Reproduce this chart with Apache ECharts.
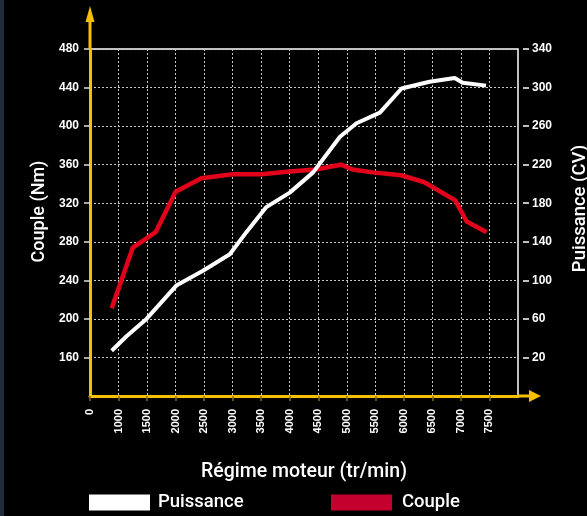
<!DOCTYPE html>
<html>
<head>
<meta charset="utf-8">
<script src="https://cdn.jsdelivr.net/npm/echarts@6/dist/echarts.min.js"></script>
<style>
html,body{margin:0;padding:0;background:#000;}
#chart{width:587px;height:516px;}
</style>
</head>
<body>
<div id="chart"></div>
<script>
// ---- data ----
const xTicks = [500, 1000, 1500, 2000, 2500, 3000, 3500, 4000, 4500, 5000, 5500, 6000, 6500, 7000, 7500];
const xTickLabels = ['0', '1000', '1500', '2000', '2500', '3000', '3500', '4000', '4500', '5000', '5500', '6000', '6500', '7000', '7500'];
const leftTicks = [160, 200, 240, 280, 320, 360, 400, 440, 480];
const rightTicks = [20, 60, 100, 140, 180, 220, 260, 300, 340];

const coupleRpm = [880, 1250, 1650, 2000, 2450, 3000, 3500, 4000, 4450, 4900, 5100, 5450, 5950, 6350, 6900, 7100, 7450];
const coupleNm  = [211, 274, 290, 332, 346, 350, 350, 353, 355, 360, 355, 352, 349, 342, 323, 301, 290];

const puissanceRpm = [880, 1140, 1490, 2020, 2480, 2950, 3240, 3590, 4000, 4410, 4880, 5170, 5580, 5960, 6450, 6890, 7030, 7440];
const puissanceCv  = [27, 42, 60, 95, 110, 127, 150, 176, 191, 212, 249, 263, 274, 299, 306, 310, 305, 302];

const YELLOW = '#f5c000';
const FONT = 'Roboto';

const chart = echarts.init(document.getElementById('chart'));
const gLeft = 90, gRight = 69, gTop = 49, gBottom = 120;
const W = 587, H = 516;
const x0 = gLeft, y0 = H - gBottom, x1 = W - gRight;

chart.setOption({
  backgroundColor: '#000',
  animation: false,
  grid: { left: gLeft, right: gRight, top: gTop, bottom: gBottom, containLabel: false, outerBoundsMode: 'none',
          show: true, borderColor: '#ffffff', borderWidth: 1.5, backgroundColor: 'transparent' },
  legend: [
    { data: ['Puissance'], left: 89, top: 493, padding: 0, icon: 'rect', itemWidth: 61, itemHeight: 16, itemGap: 8,
      textStyle: { color: '#fff', fontSize: 18.5, fontFamily: FONT, fontWeight: 500, padding: [0, 0, 0, 3] } },
    { data: ['Couple'], left: 331, top: 493, padding: 0, icon: 'rect', itemWidth: 61, itemHeight: 16, itemGap: 8,
      textStyle: { color: '#fff', fontSize: 18.5, fontFamily: FONT, fontWeight: 500, padding: [0, 0, 0, 5] } }
  ],
  xAxis: {
    type: 'value', min: 500, max: 8000, interval: 500,
    name: 'Régime moteur (tr/min)', nameLocation: 'middle', nameGap: 66,
    nameTextStyle: { color: '#fff', fontSize: 19.5, fontFamily: FONT, fontWeight: 500 },
    axisLine: { show: true, onZero: false, lineStyle: { color: YELLOW, width: 3 } },
    axisTick: { show: true, length: 5, customValues: xTicks, lineStyle: { color: '#8a6c00', width: 1.5 } },
    axisLabel: {
      customValues: xTicks, rotate: 90, margin: 13, color: '#fff', fontSize: 11, fontWeight: 'bold', fontFamily: 'Liberation Sans',
      formatter: v => xTickLabels[xTicks.indexOf(v)] || ''
    },
    splitLine: { show: true, lineStyle: { color: '#c8c8c8', type: [2, 2], width: 1 } }
  },
  yAxis: [
    {
      type: 'value', min: 120, max: 480, interval: 40, position: 'left',
      name: 'Couple (Nm)', nameLocation: 'middle', nameGap: 42, nameRotate: 90,
      nameTextStyle: { color: '#fff', fontSize: 18, fontFamily: FONT, fontWeight: 500, padding: [0, 0, 0, 22] },
      axisLine: { show: true, onZero: false, lineStyle: { color: YELLOW, width: 3 } },
      axisTick: { show: true, length: 6, customValues: leftTicks, lineStyle: { color: '#dddddd', width: 1.5 } },
      axisLabel: { customValues: leftTicks, margin: 11, color: '#fff', fontSize: 12, fontWeight: 'bold', fontFamily: 'Liberation Sans' },
      splitLine: { show: true, lineStyle: { color: '#c8c8c8', type: [2, 2], width: 1 } }
    },
    {
      type: 'value', min: -20, max: 340, interval: 40, position: 'right', offset: 5,
      name: 'Puissance (CV)', nameLocation: 'middle', nameGap: 48, nameRotate: 90,
      nameTextStyle: { color: '#fff', fontSize: 18.5, fontFamily: FONT, fontWeight: 500, padding: [0, 0, 0, 28] },
      axisLine: { show: false, onZero: false },
      axisTick: { show: true, length: 6, customValues: rightTicks, lineStyle: { color: '#ffffff', width: 1.5 } },
      axisLabel: { customValues: rightTicks, margin: 9, color: '#fff', fontSize: 12, fontWeight: 'bold', fontFamily: 'Liberation Sans' },
      splitLine: { show: false }
    }
  ],
  series: [
    {
      name: 'Couple', type: 'line', yAxisIndex: 0, showSymbol: false, symbol: 'none',
      data: coupleRpm.map((r, i) => [r, coupleNm[i]]),
      itemStyle: { color: '#c4002e' },
      lineStyle: { color: '#e2001a', width: 4.5, join: 'round' }
    },
    {
      name: 'Puissance', type: 'line', yAxisIndex: 1, showSymbol: false, symbol: 'none',
      data: puissanceRpm.map((r, i) => [r, puissanceCv[i]]),
      itemStyle: { color: '#ffffff' },
      lineStyle: { color: '#ffffff', width: 4, join: 'round' }
    }
  ],
  graphic: [
    { type: 'rect', left: 0, top: 0, shape: { x: 0, y: 0, width: 4, height: H }, style: { fill: '#1f2c3c' }, z: 100 },
    { type: 'line', shape: { x1: x0, y1: gTop + 1, x2: x0, y2: 20 }, style: { stroke: YELLOW, lineWidth: 3 }, z: 100 },
    { type: 'polygon', shape: { points: [[x0, 6], [x0 - 4.5, 22], [x0 + 4.5, 22]] }, style: { fill: YELLOW }, z: 100 },
    { type: 'line', shape: { x1: x1 - 1, y1: y0, x2: 531, y2: y0 }, style: { stroke: YELLOW, lineWidth: 3 }, z: 100 },
    { type: 'polygon', shape: { points: [[541, y0], [529, y0 - 6], [529, y0 + 6]] }, style: { fill: YELLOW }, z: 100 }
  ]
});
</script>
</body>
</html>
